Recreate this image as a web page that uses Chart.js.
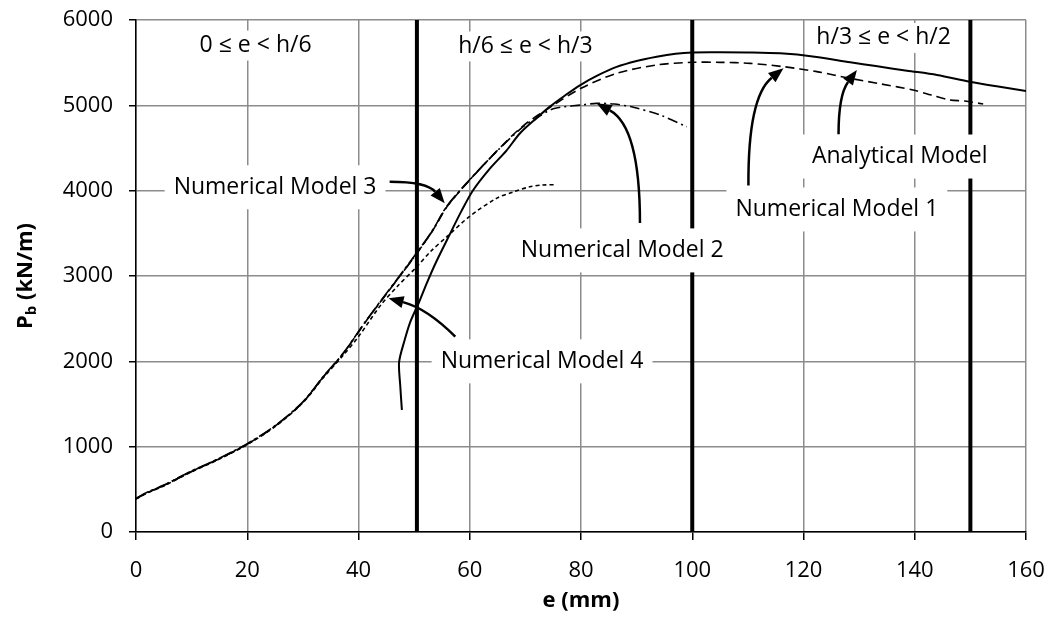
<!DOCTYPE html>
<html>
<head>
<meta charset="utf-8">
<script src="https://cdn.jsdelivr.net/npm/chart.js@4"></script>
<style>
  html, body { margin: 0; padding: 0; background: #fff; }
</style>
</head>
<body>
<canvas id="chart" width="1057" height="621"></canvas>
<script>
// axis ranges
const xMin = 0, xMax = 160, xStep = 20;
const yMin = 0, yMax = 6000, yStep = 1000;

// Analytical model (solid)
const analyticalE = [47.8, 47.5, 47.3, 48.3, 49.3, 50.8, 52.3, 54.0, 56.5, 58.5, 60.6, 63.5, 66.6, 69.0, 72.0, 74.4, 77.0, 79.8, 83.0, 86.4, 90.0, 93.6, 97.0, 100, 105, 110, 115.8, 122, 128.4, 133, 138.6, 144, 149.9, 155, 160];
const analyticalP = [1430, 1720, 1990, 2250, 2460, 2680, 2920, 3170, 3500, 3760, 4005, 4250, 4470, 4670, 4850, 4985, 5110, 5235, 5350, 5450, 5520, 5570, 5605, 5620, 5622, 5620, 5609, 5570, 5504, 5460, 5406, 5356, 5277, 5220, 5168];

// Numerical model 1 (dashed)
const model1E = [0, 2, 5, 10, 15, 20, 25, 30, 33.7, 37.3, 41.5, 46.9, 50.5, 53.4, 55.9, 60, 64.8, 69.6, 75, 80, 86.4, 93.6, 100, 105, 110.4, 116.4, 122.4, 128.4, 134, 139.7, 143, 146.3, 149, 152.3];
const model1P = [390, 460, 545, 710, 860, 1030, 1240, 1520, 1820, 2094, 2484, 2953, 3266, 3539, 3812, 4125, 4460, 4760, 5000, 5200, 5375, 5473, 5504, 5504, 5492, 5453, 5395, 5316, 5250, 5180, 5120, 5063, 5050, 5016];

// Numerical model 2 (dash-dot, ends at e = 100)
const model2E = [0, 2, 5, 10, 15, 20, 25, 30, 33.7, 37.3, 41.5, 46.9, 50.5, 53.4, 55.9, 60, 64.8, 69.6, 72, 75, 80.1, 82.8, 86, 89.4, 94.2, 99.0];
const model2P = [390, 460, 545, 710, 860, 1030, 1240, 1520, 1820, 2094, 2484, 2953, 3266, 3539, 3812, 4125, 4457, 4750, 4850, 4960, 5004, 5023, 5015, 4977, 4887, 4750];

// Numerical model 3 (long dash-dot)
const model3E = [0, 2, 5, 10, 15, 20, 25, 30, 33.7, 37.3, 41.5, 46.9, 50.5, 53.4, 55.9, 60, 64.8];
const model3P = [395, 465, 550, 715, 865, 1035, 1245, 1525, 1825, 2100, 2490, 2960, 3275, 3545, 3820, 4130, 4460];

// Numerical model 4 (short dashes)
const model4E = [0, 2, 5, 10, 15, 20, 25, 30, 33.7, 37.3, 40, 43.9, 47, 50.5, 53, 55.9, 60, 64.8, 67.8, 70.8, 73, 75.6];
const model4P = [385, 455, 540, 705, 855, 1025, 1235, 1515, 1810, 2075, 2290, 2650, 2880, 3109, 3290, 3461, 3700, 3910, 3985, 4045, 4066, 4070];

// eccentricity region limits (thick vertical lines)
const regionE = [50.5, 100, 150];

// text notes (data coordinates of their centres)
const noteText = ['0 ≤ e < h/6', 'h/6 ≤ e < h/3', 'h/3 ≤ e < h/2', 'Numerical Model 3', 'Numerical Model 4', 'Numerical Model 2', 'Numerical Model 1', 'Analytical Model'];
const noteE = [21.5, 70.0, 134.4, 25.0, 73.0, 87.4, 126.0, 137.3];
const noteP = [5700, 5690, 5790, 4040, 2000, 3300, 3780, 4400];

// arrows: start, bend, tip
const arrowFromE = [45.6, 57.4, 90.6, 110.1, 126.3];
const arrowFromP = [4105, 2289, 3620, 4060, 4660];
const arrowBendE = [52.3, 52.3, 90.6, 110.0, 126.3];
const arrowBendP = [4105, 2620, 4750, 5100, 5120];
const arrowTipE = [55.5, 45.4, 82.8, 116.4, 129.6];
const arrowTipP = [3852, 2738, 5024, 5434, 5415];

const FONT = '"Open Sans", "DejaVu Sans", sans-serif';
Chart.defaults.font.family = FONT;
Chart.defaults.color = '#000';

const toPoints = (es, ps) => es.map((e, i) => ({ x: e, y: ps[i] }));

const curve = (label, es, ps, dash, width) => ({
    label: label,
    data: toPoints(es, ps),
    showLine: true,
    borderColor: '#000',
    borderWidth: width,
    borderDash: dash,
    pointRadius: 0,
    tension: 0.3,
    fill: false,
});

const regionSets = regionE.map(e => ({
    label: 'limit ' + e,
    data: [{ x: e, y: yMin }, { x: e, y: yMax }],
    showLine: true,
    borderColor: '#000',
    borderWidth: 4,
    pointRadius: 0,
    tension: 0,
}));

// fixed scale sizes so the plot area lands where the original has it
const fitX = s => { s.height = 89; s.paddingLeft = 0; s.paddingRight = 0; s.paddingTop = 0; s.paddingBottom = 0; };
const fitY = s => { s.width = 136; s.paddingLeft = 0; s.paddingRight = 0; s.paddingTop = 0; s.paddingBottom = 0; };

// notes, arrows and axis titles
const notesPlugin = {
    id: 'notes',
    afterDatasetsDraw(chart) {
        const { ctx, scales: { x, y }, chartArea } = chart;
        ctx.save();
        ctx.font = '23px ' + FONT;
        ctx.textAlign = 'center';
        ctx.textBaseline = 'middle';
        noteText.forEach((t, i) => {
            const px = x.getPixelForValue(noteE[i]);
            const py = y.getPixelForValue(noteP[i]);
            const w = ctx.measureText(t).width;
            const padX = 9;
            const padY = i < 3 ? 2 : 9;
            ctx.fillStyle = '#fff';
            ctx.fillRect(px - w / 2 - padX, py - 13 - padY, w + 2 * padX, 26 + 2 * padY);
            ctx.fillStyle = '#000';
            ctx.fillText(t, px, py);
        });

        ctx.strokeStyle = '#000';
        ctx.fillStyle = '#000';
        ctx.lineWidth = 2.5;
        arrowTipE.forEach((_, i) => {
            const sx = x.getPixelForValue(arrowFromE[i]), sy = y.getPixelForValue(arrowFromP[i]);
            const cx = x.getPixelForValue(arrowBendE[i]), cy = y.getPixelForValue(arrowBendP[i]);
            const tx = x.getPixelForValue(arrowTipE[i]), ty = y.getPixelForValue(arrowTipP[i]);
            const a = Math.atan2(ty - cy, tx - cx);
            const head = 15, half = 6;
            const bx = tx - head * Math.cos(a), by = ty - head * Math.sin(a);
            ctx.beginPath();
            ctx.moveTo(sx, sy);
            ctx.quadraticCurveTo(cx, cy, bx, by);
            ctx.stroke();
            ctx.beginPath();
            ctx.moveTo(tx, ty);
            ctx.lineTo(bx + half * Math.sin(a), by - half * Math.cos(a));
            ctx.lineTo(bx - half * Math.sin(a), by + half * Math.cos(a));
            ctx.closePath();
            ctx.fill();
        });

        // x title
        ctx.font = 'bold 22px ' + FONT;
        ctx.fillText('e (mm)', (chartArea.left + chartArea.right) / 2, 601);

        // y title with subscript
        ctx.translate(26, (chartArea.top + chartArea.bottom) / 2);
        ctx.rotate(-Math.PI / 2);
        ctx.textAlign = 'left';
        const big = 'bold 22px ' + FONT, small = 'bold 15px ' + FONT;
        ctx.font = big;
        const wP = ctx.measureText('P').width;
        const wRest = ctx.measureText(' (kN/m)').width;
        ctx.font = small;
        const wb = ctx.measureText('b').width;
        const cx0 = -(wP + wb + wRest) / 2;
        ctx.font = big;
        ctx.fillText('P', cx0, 0);
        ctx.font = small;
        ctx.fillText('b', cx0 + wP, 6);
        ctx.font = big;
        ctx.fillText(' (kN/m)', cx0 + wP + wb, 0);
        ctx.restore();
    }
};

new Chart(document.getElementById('chart'), {
    type: 'scatter',
    data: {
        datasets: [
            curve('Analytical Model', analyticalE, analyticalP, [], 2),
            curve('Numerical Model 1', model1E, model1P, [9, 5], 1.6),
            curve('Numerical Model 2', model2E, model2P, [10, 4, 2, 4], 1.6),
            curve('Numerical Model 3', model3E, model3P, [14, 3, 3, 3], 1.6),
            curve('Numerical Model 4', model4E, model4P, [4, 3], 1.6),
            ...regionSets,
        ],
    },
    options: {
        responsive: false,
        animation: false,
        layout: { padding: { top: 20, right: 31, left: 0, bottom: 0 } },
        plugins: { legend: { display: false }, tooltip: { enabled: false } },
        scales: {
            x: {
                type: 'linear',
                min: xMin,
                max: xMax,
                ticks: { stepSize: xStep, padding: 18, font: { size: 22 }, color: '#000', callback: v => String(v) },
                grid: { color: '#8c8c8c', lineWidth: 1.5, tickColor: '#000', tickLength: 8 },
                border: { color: '#000', width: 1.5 },
                afterFit: fitX,
            },
            y: {
                min: yMin,
                max: yMax,
                ticks: { stepSize: yStep, padding: 16, font: { size: 22 }, color: '#000', callback: v => String(v) },
                grid: { color: '#8c8c8c', lineWidth: 1.5, tickColor: '#000', tickLength: 7 },
                border: { color: '#000', width: 1.5 },
                afterFit: fitY,
            },
        },
    },
    plugins: [notesPlugin],
});
</script>
</body>
</html>
